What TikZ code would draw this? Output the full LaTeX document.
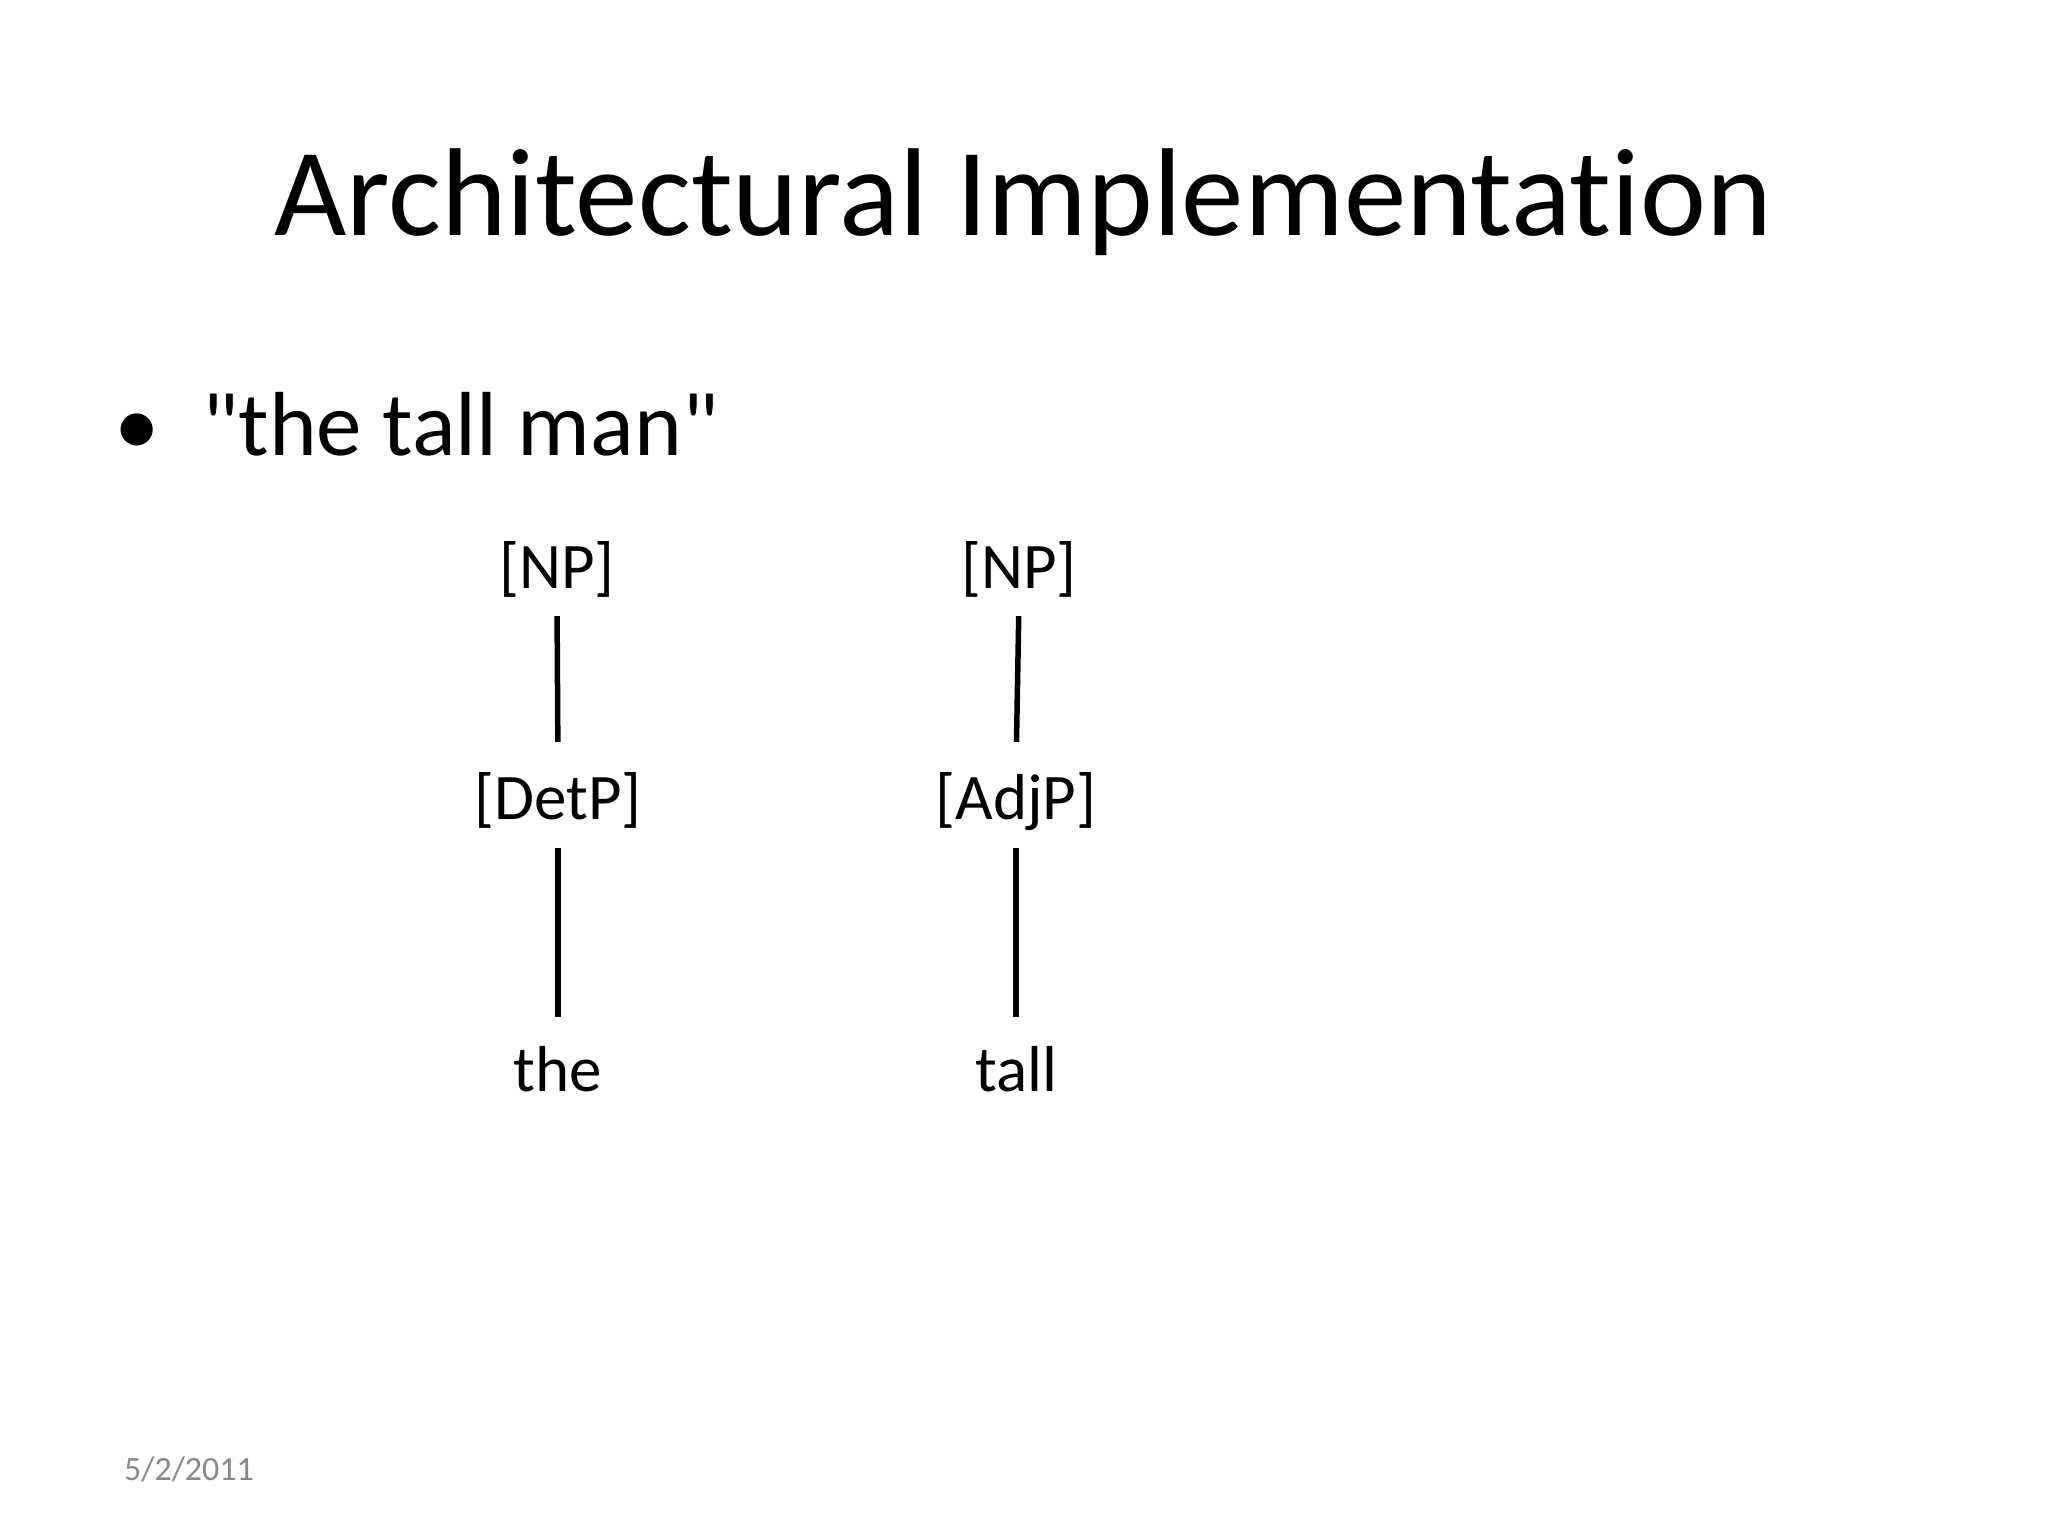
\documentclass[tikz,border=0pt]{standalone}
\usepackage{fontspec}
\setmainfont{Carlito}[Ligatures={TeXOff,NoCommon}]
\definecolor{dategray}{HTML}{898989}
\begin{document}
\begin{tikzpicture}[x=1pt,y=-1pt,
  titletext/.style={inner sep=0pt,anchor=base,font=\fontsize{125}{150}\selectfont},
  bodytext/.style={inner sep=0pt,anchor=base west,font=\fontsize{91}{110}\selectfont},
  treelabel/.style={inner sep=0pt,anchor=base,font=\fontsize{65}{78}\selectfont,text height=50pt,text depth=13pt},
  datetext/.style={inner sep=0pt,anchor=base west,text=dategray,font=\fontsize{34}{40}\selectfont},
  treeline/.style={line width=5.5pt},
  upper/.style={treeline,shorten <=15pt,shorten >=27pt},
  lower/.style={treeline,shorten <=16pt,shorten >=24pt}]
\useasboundingbox[fill=white] (0,0) rectangle (2048,1536);
\node[titletext] (title) at (1023,235) {Architectural Implementation};
\node[bodytext] (bullet) at (114,455) {•};
\node[bodytext] (item) at (202,455) {"the tall man"};
\node[treelabel] (np1) at (557,588) {[NP]};
\node[treelabel] (np2) at (1019,588) {[NP]};
\node[treelabel] (detp) at (558,819) {[DetP]};
\node[treelabel] (adjp) at (1016,819) {[AdjP]};
\node[treelabel] (the) at (558,1091) {the};
\node[treelabel] (tall) at (1016,1091) {tall};
\draw[upper] (np1.south) -- (detp.north);
\draw[upper] (np2.south) -- (adjp.north);
\draw[lower] (detp.south) -- (the.north);
\draw[lower] (adjp.south) -- (tall.north);
\node[datetext] (date) at (124,1480) {5/2/2011};
\end{tikzpicture}
\end{document}
